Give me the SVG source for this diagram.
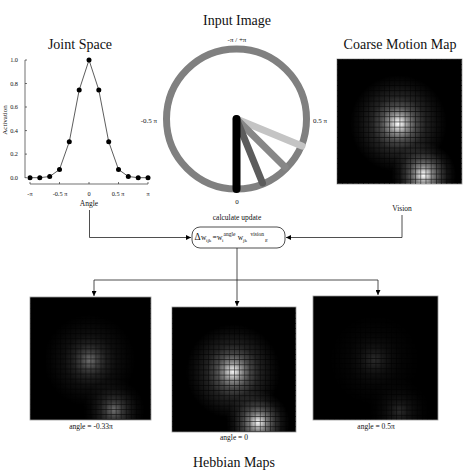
<svg xmlns="http://www.w3.org/2000/svg" xmlns:xlink="http://www.w3.org/1999/xlink" width="474" height="474" viewBox="0 0 474 474">
<style>
text{font-family:"Liberation Serif","Times New Roman",serif;fill:#111}
.title{font-size:14px;text-anchor:middle}
.lbl{font-size:7.5px;text-anchor:middle}
.tick{font-size:6.3px}
.cl{font-size:7px}
.ax{stroke:#333;stroke-width:0.7;fill:none}
.con{stroke:#222;stroke-width:0.8;fill:none}
.mapbg{fill:#000;stroke:#9a9a9a;stroke-width:0.8}
</style>
<defs>
<marker id="arr" viewBox="0 0 6 6" refX="6" refY="3" markerWidth="5" markerHeight="5" orient="auto" markerUnits="userSpaceOnUse">
<path d="M0,0 L6,3 L0,6 z" fill="#000"/>
</marker>
<radialGradient id="b1" gradientUnits="userSpaceOnUse" cx="61" cy="64" r="48">
<stop offset="0" stop-color="#fff" stop-opacity="1"/>
<stop offset="0.08" stop-color="#fff" stop-opacity="0.85"/>
<stop offset="0.2" stop-color="#fff" stop-opacity="0.55"/>
<stop offset="0.35" stop-color="#fff" stop-opacity="0.3"/>
<stop offset="0.55" stop-color="#fff" stop-opacity="0.14"/>
<stop offset="0.8" stop-color="#fff" stop-opacity="0.05"/>
<stop offset="1" stop-color="#fff" stop-opacity="0"/>
</radialGradient>
<radialGradient id="b2" gradientUnits="userSpaceOnUse" cx="86" cy="115" r="32">
<stop offset="0" stop-color="#fff" stop-opacity="1"/>
<stop offset="0.1" stop-color="#fff" stop-opacity="0.85"/>
<stop offset="0.28" stop-color="#fff" stop-opacity="0.5"/>
<stop offset="0.5" stop-color="#fff" stop-opacity="0.24"/>
<stop offset="0.75" stop-color="#fff" stop-opacity="0.07"/>
<stop offset="1" stop-color="#fff" stop-opacity="0"/>
</radialGradient>
<pattern id="grid" patternUnits="userSpaceOnUse" width="5.1667" height="5.1667">
<path d="M0,0 H5.1667 M0,0 V5.1667" stroke="#000" stroke-width="1.1" stroke-opacity="0.8"/>
</pattern>
<clipPath id="mc"><rect x="0" y="0" width="124" height="124"/></clipPath>
<symbol id="hm" viewBox="0 0 124 124">
<g clip-path="url(#mc)">
<rect x="0" y="0" width="124" height="124" fill="url(#b1)"/>
<rect x="0" y="0" width="124" height="124" fill="url(#b2)"/>
<rect x="0" y="0" width="124" height="124" fill="url(#grid)"/>
</g>
</symbol>
</defs>
<rect width="474" height="474" fill="#fff"/>

<g id="joint-space">
<text class="title" x="80" y="49">Joint Space</text>
<path class="ax" d="M25,60 V178 M25,60 h2 M25,83.5 h2 M25,107 h2 M25,130.6 h2 M25,154.1 h2 M25,177.7 h2"/>
<g class="tick" text-anchor="end">
<text x="18" y="62">1.0</text>
<text x="18" y="85.5">0.8</text>
<text x="18" y="109">0.6</text>
<text x="18" y="132.6">0.4</text>
<text x="18" y="156.1">0.2</text>
<text x="18" y="179.7">0.0</text>
</g>
<text class="cl" transform="translate(7,120) rotate(-90)" text-anchor="middle">Activation</text>
<path class="ax" d="M30,184 H148 M30,184 v-2 M59.5,184 v-2 M89,184 v-2 M118.5,184 v-2 M148,184 v-2"/>
<g class="tick" text-anchor="middle">
<text x="30" y="196">-π</text>
<text x="60" y="196">-0.5 π</text>
<text x="89" y="196">0</text>
<text x="118" y="196">0.5 π</text>
<text x="148" y="196">π</text>
</g>
<text class="lbl" x="89" y="206">Angle</text>
<polyline points="30,177.7 39.8,177.7 49.7,176.5 59.5,169.5 69.3,141.7 79.2,90 89,60 98.8,90 108.7,141.7 118.5,169.5 128.3,176.5 138.2,177.7 148,177.7" fill="none" stroke="#333" stroke-width="0.8"/>
<g fill="#000">
<circle cx="30" cy="177.7" r="2.5"/><circle cx="39.8" cy="177.7" r="2.5"/><circle cx="49.7" cy="176.5" r="2.5"/>
<circle cx="59.5" cy="169.5" r="2.5"/><circle cx="69.3" cy="141.7" r="2.5"/><circle cx="79.2" cy="90" r="2.5"/>
<circle cx="89" cy="60" r="2.5"/><circle cx="98.8" cy="90" r="2.5"/><circle cx="108.7" cy="141.7" r="2.5"/>
<circle cx="118.5" cy="169.5" r="2.5"/><circle cx="128.3" cy="176.5" r="2.5"/><circle cx="138.2" cy="177.7" r="2.5"/>
<circle cx="148" cy="177.7" r="2.5"/>
</g>
</g>

<g id="input-image">
<text class="title" x="237" y="25">Input Image</text>
<text class="cl" x="237" y="42" text-anchor="middle">-π / +π</text>
<text class="cl" x="157" y="123" text-anchor="end">-0.5 π</text>
<text class="cl" x="313" y="123">0.5 π</text>
<text class="cl" x="237" y="204" text-anchor="middle">0</text>
<circle cx="236.5" cy="119" r="70" fill="none" stroke="#808080" stroke-width="7"/>
<g stroke-linecap="round" stroke-width="7">
<line x1="236.5" y1="119" x2="302" y2="146" stroke="#c4c4c4"/>
<line x1="236.5" y1="119" x2="285" y2="167" stroke="#878787"/>
<line x1="236.5" y1="119" x2="262.5" y2="183" stroke="#5c5c5c"/>
<line x1="236.5" y1="119" x2="236.5" y2="189" stroke="#000" stroke-width="8"/>
</g>
</g>

<g id="coarse-map">
<text class="title" x="400" y="49">Coarse Motion Map</text>
<rect class="mapbg" x="337" y="59" width="125" height="125"/>
<use xlink:href="#hm" x="337" y="59" width="125" height="125"/>
<text class="lbl" x="402" y="211">Vision</text>
</g>

<g id="update">
<text class="lbl" x="237" y="220">calculate update</text>
<rect x="192" y="227" width="93" height="21" rx="8" fill="#fff" stroke="#222" stroke-width="0.8"/>
<text x="194.5" y="240" font-size="9.5">Δ</text>
<text x="201" y="240" font-size="7.5">w</text>
<text x="206" y="242" font-size="5">ijk</text>
<text x="212.5" y="240" font-size="7.5">=</text>
<text x="217" y="240" font-size="7.5">w</text>
<text x="222" y="242" font-size="5">i</text>
<text x="223.5" y="235.5" font-size="5.5">angle</text>
<text x="237.8" y="240" font-size="7.5">w</text>
<text x="243" y="242" font-size="5">jk</text>
<text x="250.5" y="235.5" font-size="5.5">vision</text>
<text x="265" y="241.5" font-size="6.5">ε</text>
</g>

<g id="connectors">
<path class="con" d="M89.5,210 V237.5 H191" marker-end="url(#arr)"/>
<path class="con" d="M402,215 V237.5 H286" marker-end="url(#arr)"/>
<path class="con" d="M237,248 V306" marker-end="url(#arr)"/>
<path class="con" d="M94,280 H378"/>
<path class="con" d="M94,280 V296" marker-end="url(#arr)"/>
<path class="con" d="M378,280 V295" marker-end="url(#arr)"/>
</g>

<g id="hebbian-left">
<rect class="mapbg" x="30" y="297" width="121" height="123"/>
<use xlink:href="#hm" x="30" y="297" width="121" height="123" preserveAspectRatio="none" opacity="0.42"/>
<text class="lbl" x="91" y="429">angle = -0.33π</text>
</g>
<g id="hebbian-mid">
<rect class="mapbg" x="172" y="307" width="124" height="125"/>
<use xlink:href="#hm" x="172" y="307" width="124" height="125" preserveAspectRatio="none" opacity="0.95"/>
<text class="lbl" x="234" y="440">angle = 0</text>
</g>
<g id="hebbian-right">
<rect class="mapbg" x="313" y="296" width="125" height="124"/>
<use xlink:href="#hm" x="313" y="296" width="125" height="124" preserveAspectRatio="none" opacity="0.16"/>
<text class="lbl" x="376" y="429">angle = 0.5π</text>
</g>
<text class="title" x="234" y="467">Hebbian Maps</text>
</svg>
